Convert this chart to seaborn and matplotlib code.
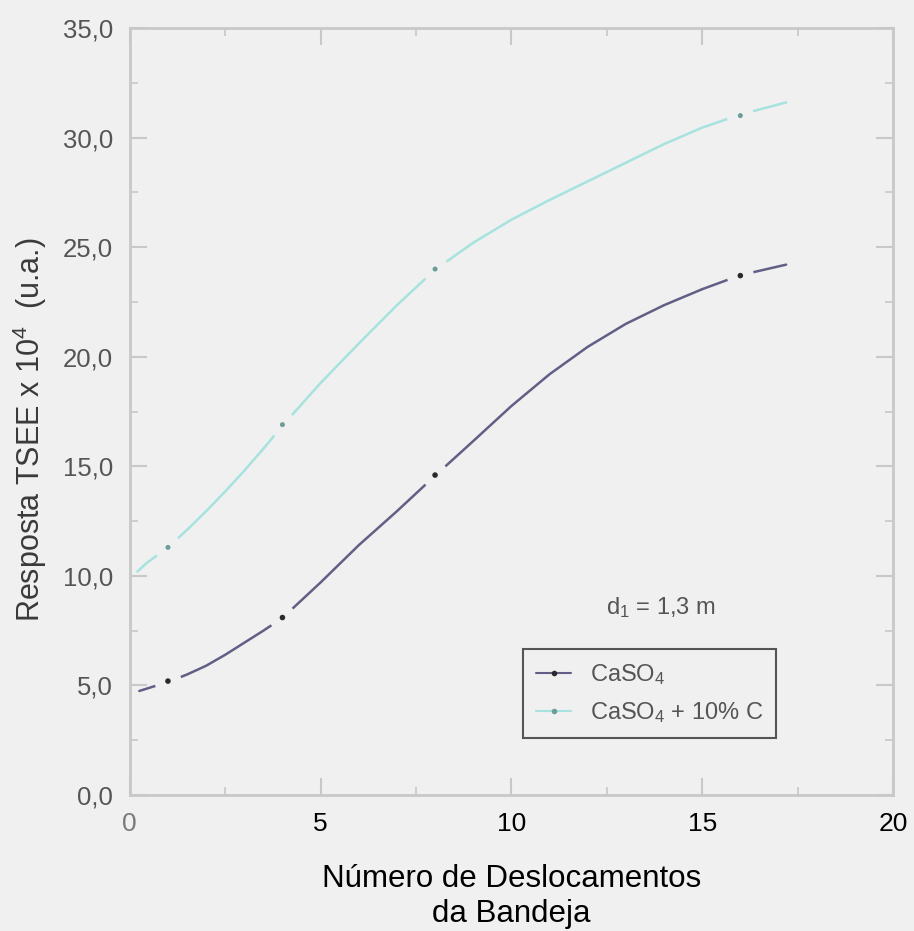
import matplotlib
matplotlib.use("Agg")
import matplotlib.pyplot as plt
from matplotlib.lines import Line2D
from matplotlib.ticker import MultipleLocator, FuncFormatter
import seaborn as sns

# Measured responses at each tray displacement count
deslocamentos = [1, 4, 8, 16]
caso4 = [5.2, 8.1, 14.6, 23.7]
caso4_c = [11.3, 16.9, 24.0, 31.0]

# Smooth fitted curves through the measurements
curva_x_caso4 = [0.25, 1, 1.5, 2, 2.5, 3, 3.5, 4, 5, 6, 7, 8, 9, 10, 11, 12, 13, 14, 15, 16, 17.2]
curva_y_caso4 = [4.75, 5.16, 5.5, 5.9, 6.4, 6.95, 7.5, 8.08, 9.7, 11.4, 12.95, 14.57,
                 16.15, 17.75, 19.2, 20.45, 21.5, 22.35, 23.08, 23.72, 24.2]
curva_x_caso4_c = [0.2, 0.45, 1, 1.5, 2, 2.5, 3, 3.5, 4, 5, 6, 7, 8, 9, 10, 11, 12, 13, 14, 15, 16, 17.2]
curva_y_caso4_c = [10.2, 10.6, 11.3, 12.1, 12.95, 13.85, 14.8, 15.8, 16.85, 18.8, 20.6,
                   22.35, 23.97, 25.2, 26.25, 27.15, 28.0, 28.85, 29.7, 30.45, 31.05, 31.6]

rotulos_serie = ["CaSO$_4$", "CaSO$_4$ + 10% C"]
xticks = [0, 5, 10, 15, 20]

BG = "#f0f0f0"
COR_CASO4 = "#615f85"
PONTO_CASO4 = "#2a2a2a"
COR_C = "#a6e3df"
PONTO_C = "#6e9c9a"
EIXO = "#c8c8c8"

sns.set_theme(style="ticks")
plt.rcParams["font.family"] = ["Liberation Sans", "DejaVu Sans"]
plt.rcParams["mathtext.fontset"] = "custom"
plt.rcParams["mathtext.rm"] = "Liberation Sans"
plt.rcParams["mathtext.it"] = "Liberation Sans:italic"
plt.rcParams["mathtext.bf"] = "Liberation Sans:bold"

fig = plt.figure(figsize=(9.14, 9.31), dpi=100, facecolor=BG)
ax = fig.add_axes([0.142, 0.146, 0.835, 0.824])
ax.set_facecolor(BG)

sns.lineplot(x=curva_x_caso4_c, y=curva_y_caso4_c, sort=False, estimator=None,
             color=COR_C, lw=1.8, ax=ax)
sns.lineplot(x=curva_x_caso4, y=curva_y_caso4, sort=False, estimator=None,
             color=COR_CASO4, lw=1.8, ax=ax)

# gaps in the curves around the measured points
for ys in (caso4, caso4_c):
    sns.scatterplot(x=deslocamentos, y=ys, s=380, color=BG, edgecolor="none",
                    ax=ax, zorder=4)
sns.scatterplot(x=deslocamentos, y=caso4, s=16, color=PONTO_CASO4,
                edgecolor="none", ax=ax, zorder=5)
sns.scatterplot(x=deslocamentos, y=caso4_c, s=13, color=PONTO_C,
                edgecolor="none", ax=ax, zorder=5)

ax.set_xlim(0, 20)
ax.set_ylim(0, 35)
ax.set_xticks(xticks)
ax.set_xticklabels([str(t) for t in xticks])
ax.xaxis.set_minor_locator(MultipleLocator(2.5))
ax.yaxis.set_major_locator(MultipleLocator(5))
ax.yaxis.set_minor_locator(MultipleLocator(2.5))
ax.yaxis.set_major_formatter(FuncFormatter(lambda v, p: f"{v:.1f}".replace(".", ",")))

ax.tick_params(which="both", direction="in", top=True, right=True, color=EIXO)
ax.tick_params(which="major", length=12, width=1.5, pad=12)
ax.tick_params(which="minor", length=6, width=1.2)
ax.tick_params(axis="x", labelsize=19, labelcolor="black")
ax.tick_params(axis="y", labelsize=18.5, labelcolor="#555555")
ax.get_xticklabels()[0].set_color("#7a7a7a")

for sp in ax.spines.values():
    sp.set_visible(True)
    sp.set_color(EIXO)
    sp.set_linewidth(2)

ax.set_xlabel("Número de Deslocamentos\nda Bandeja", fontsize=22.5, color="black",
              linespacing=1.2)
ax.xaxis.set_label_coords(0.5, -0.132)
ax.xaxis.label.set_va("center")
ax.set_ylabel("Resposta TSEE x 10$^4$  (u.a.)", fontsize=22, color="#3a3a3a")
ax.yaxis.set_label_coords(-0.131, 0.476)
ax.yaxis.label.set_va("center")

ax.text(0.696, 0.244, "d$_1$ = 1,3 m", transform=ax.transAxes, fontsize=17,
        color="#555555", ha="center", va="center")

handles = [
    Line2D([], [], color=COR_CASO4, lw=1.5, marker="o", markersize=3,
           markerfacecolor=PONTO_CASO4, markeredgecolor=PONTO_CASO4),
    Line2D([], [], color=COR_C, lw=1.5, marker="o", markersize=3,
           markerfacecolor=PONTO_C, markeredgecolor=PONTO_C),
]
leg = ax.legend(handles, rotulos_serie, loc="upper left",
                bbox_to_anchor=(0.515, 0.190), borderaxespad=0, fontsize=17,
                frameon=True, fancybox=False, facecolor=BG, edgecolor="#555555",
                framealpha=1, handlelength=1.5, handletextpad=0.8,
                labelspacing=0.55, borderpad=0.55)
leg.get_frame().set_linewidth(1.5)
for t in leg.get_texts():
    t.set_color("#555555")

fig.savefig("out.png", dpi=100, facecolor=BG)
